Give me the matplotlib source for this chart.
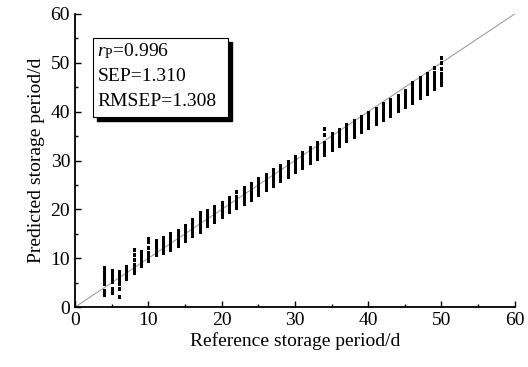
import matplotlib.pyplot as plt
from matplotlib.patches import Rectangle
from matplotlib.ticker import MultipleLocator

plt.rcParams['font.family'] = ['Liberation Serif', 'DejaVu Serif']
plt.rcParams['mathtext.fontset'] = 'custom'
plt.rcParams['mathtext.rm'] = 'Liberation Serif'
plt.rcParams['mathtext.it'] = 'Liberation Serif:italic'

# reference storage period (days) and predicted values read per column
ref_days = list(range(4, 51))
pred_days = [
    [2.5, 3.3, 4.8, 5.6, 6.4, 7.2, 8.0],        # 4
    [3.0, 3.8, 5.2, 6.0, 6.8, 7.4],             # 5
    [2.0, 3.8, 4.8, 5.6, 6.4, 7.2],             # 6
    [5.8, 6.4, 7.0, 7.6, 8.2],                  # 7
    [7.0, 7.8, 8.6, 9.6, 10.6, 11.6],           # 8
    [8.4, 9.0, 9.8, 10.6, 11.2],                # 9
    [9.4, 10.2, 11.0, 12.2, 13.4, 14.0],        # 10
    [10.6, 11.4, 12.0, 12.8, 13.6],             # 11
    [11.0, 11.8, 12.6, 13.4, 14.2],             # 12
    [11.8, 12.6, 13.4, 14.2, 15.0],             # 13
    [12.6, 13.4, 14.2, 15.0, 15.6],             # 14
    [13.6, 14.4, 15.2, 16.0, 16.6],             # 15
    [14.6, 15.4, 16.2, 17.0, 17.8],             # 16
    [15.4, 16.2, 17.0, 17.8, 18.6, 19.2],       # 17
    [16.6, 17.4, 18.2, 19.0, 19.6],             # 18
    [17.4, 18.2, 19.0, 19.8, 20.4],             # 19
    [18.4, 19.2, 20.0, 20.8, 21.4],             # 20
    [19.4, 20.2, 21.0, 21.8, 22.4],             # 21
    [20.2, 21.0, 21.8, 22.6, 23.6],             # 22
    [21.2, 22.0, 22.8, 23.6, 24.4],             # 23
    [22.0, 22.8, 23.6, 24.4, 25.2],             # 24
    [23.0, 23.8, 24.6, 25.4, 26.2],             # 25
    [24.0, 24.8, 25.6, 26.4, 27.0],             # 26
    [24.8, 25.6, 26.4, 27.2, 28.0],             # 27
    [25.8, 26.6, 27.4, 28.2, 28.8],             # 28
    [26.6, 27.4, 28.2, 29.0, 29.8],             # 29
    [27.6, 28.4, 29.2, 30.0, 30.8],             # 30
    [28.4, 29.2, 30.0, 30.8, 31.6],             # 31
    [29.4, 30.2, 31.0, 31.8, 32.6],             # 32
    [30.4, 31.2, 32.0, 32.8, 33.6],             # 33
    [31.2, 32.0, 32.8, 33.6, 35.2, 36.4],       # 34
    [32.2, 33.0, 33.8, 34.6, 35.4],             # 35
    [33.0, 33.8, 34.6, 35.4, 36.2],             # 36
    [34.0, 34.8, 35.6, 36.4, 37.2],             # 37
    [34.8, 35.6, 36.4, 37.2, 38.0],             # 38
    [35.8, 36.6, 37.4, 38.2, 39.0],             # 39
    [36.6, 37.4, 38.2, 39.0, 39.8],             # 40
    [37.4, 38.2, 39.0, 39.8, 40.6],             # 41
    [38.4, 39.2, 40.0, 40.8, 41.6],             # 42
    [39.2, 40.0, 40.8, 41.6, 42.4],             # 43
    [40.2, 41.0, 41.8, 42.6, 43.2],             # 44
    [41.0, 41.8, 42.6, 43.4, 44.2],             # 45
    [41.8, 42.6, 43.4, 44.2, 45.0, 45.8],       # 46
    [42.8, 43.6, 44.4, 45.2, 46.0, 46.8],       # 47
    [43.6, 44.4, 45.2, 46.0, 46.8, 47.8],       # 48
    [44.6, 45.4, 46.2, 47.0, 48.0, 49.0],       # 49
    [45.4, 46.2, 47.0, 47.8, 48.8, 50.0, 51.0], # 50
]

stats_lines = [r'$\mathit{r}_\mathrm{P}$=0.996', 'SEP=1.310', 'RMSEP=1.308']

fig = plt.figure(figsize=(5.28, 3.67), dpi=100)
ax = fig.add_axes([0.142, 0.163, 0.833, 0.799])

# 1:1 reference line
ax.plot([0, 60], [0, 60], color='#a0a0a0', lw=0.8, zorder=1)

xs, ys = [], []
for d, vals in zip(ref_days, pred_days):
    xs += [d] * len(vals)
    ys += vals
# slightly tall dot, like the printed marks
dot = [(-0.8, -1), (0.8, -1), (0.8, 1), (-0.8, 1), (-0.8, -1)]
ax.plot(xs, ys, linestyle='none', marker=dot, color='black', ms=2.7, mew=0, zorder=2)

ax.set_xlim(0, 60)
ax.set_ylim(0, 60)
ax.xaxis.set_major_locator(MultipleLocator(10))
ax.yaxis.set_major_locator(MultipleLocator(10))
ax.xaxis.set_minor_locator(MultipleLocator(5))
ax.yaxis.set_minor_locator(MultipleLocator(5))
ax.tick_params(which='both', direction='in', labelsize=14, width=1)
ax.tick_params(which='major', length=4)
ax.tick_params(which='minor', length=2.5)
ax.spines['top'].set_visible(False)
ax.spines['right'].set_visible(False)
for s in ('left', 'bottom'):
    ax.spines[s].set_linewidth(1.3)

ax.set_xlabel('Reference storage period/d', fontsize=14, labelpad=2)
ax.set_ylabel('Predicted storage period/d', fontsize=14, labelpad=4)

# stats box with shadow
bx, by, bw, bh = 0.041, 0.648, 0.307, 0.27
ax.add_patch(Rectangle((bx + 0.009, by - 0.013), bw, bh, transform=ax.transAxes,
                       facecolor='black', edgecolor='black', zorder=4))
ax.add_patch(Rectangle((bx, by), bw, bh, transform=ax.transAxes,
                       facecolor='white', edgecolor='black', lw=0.8, zorder=5))
for i, line in enumerate(stats_lines):
    ax.text(bx + 0.01, by + bh - 0.045 - i * 0.085, line, transform=ax.transAxes,
            fontsize=14, va='center', ha='left', zorder=6)

fig.savefig('out.png', dpi=100)
